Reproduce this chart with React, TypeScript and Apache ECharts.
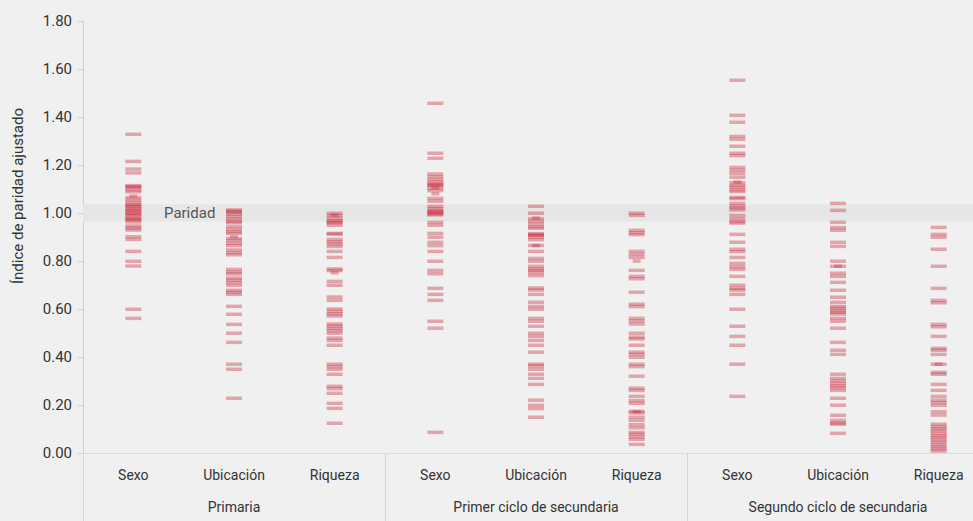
import React, { useEffect, useRef } from "react";
import * as echarts from "echarts";

const categories = ["Sexo", "Ubicación", "Riqueza", "Sexo", "Ubicación", "Riqueza", "Sexo", "Ubicación", "Riqueza"];
const groups = ["Primaria", "Primer ciclo de secundaria", "Segundo ciclo de secundaria"];
const yTicks = [0, 0.2, 0.4, 0.6, 0.8, 1.0, 1.2, 1.4, 1.6, 1.8];
const parityBand = [0.965, 1.035];

const primariaSexo = [1.328, 1.215, 1.183, 1.167, 1.114, 1.11, 1.106, 1.096, 1.088, 1.064, 1.054, 1.044, 1.035, 1.03, 1.026, 1.017, 1.012, 1.007, 0.999, 0.995, 0.989, 0.979, 0.975, 0.971, 0.9625, 0.946, 0.9375, 0.929, 0.901, 0.89, 0.84, 0.799, 0.779, 0.599, 0.561];
const primariaUbicacion = [1.0125, 1.008, 1.003, 0.995, 0.985, 0.975, 0.965, 0.959, 0.943, 0.932, 0.922, 0.915, 0.894, 0.885, 0.874, 0.864, 0.846, 0.835, 0.826, 0.765, 0.754, 0.746, 0.729, 0.72, 0.71, 0.699, 0.678, 0.67, 0.661, 0.611, 0.578, 0.536, 0.499, 0.461, 0.37, 0.349, 0.228];
const primariaRiqueza = [0.999, 0.989, 0.978, 0.968, 0.963, 0.959, 0.949, 0.915, 0.912, 0.89, 0.88, 0.871, 0.861, 0.84, 0.815, 0.767, 0.76, 0.715, 0.699, 0.65, 0.636, 0.6, 0.59, 0.58, 0.571, 0.5375, 0.529, 0.519, 0.51, 0.499, 0.479, 0.469, 0.449, 0.37, 0.36, 0.349, 0.328, 0.278, 0.268, 0.249, 0.207, 0.186, 0.124];
const primerSexo = [1.457, 1.249, 1.228, 1.1625, 1.151, 1.14, 1.13, 1.121, 1.117, 1.114, 1.103, 1.093, 1.061, 1.049, 1.028, 1.018, 1.01, 1.005, 1.001, 0.996, 0.992, 0.961, 0.949, 0.915, 0.899, 0.878, 0.864, 0.84, 0.799, 0.761, 0.747, 0.686, 0.661, 0.636, 0.549, 0.52, 0.086];
const primerUbicacion = [1.028, 0.999, 0.976, 0.965, 0.954, 0.943, 0.936, 0.914, 0.91, 0.907, 0.899, 0.889, 0.865, 0.84, 0.811, 0.799, 0.778, 0.767, 0.761, 0.751, 0.739, 0.6875, 0.679, 0.661, 0.628, 0.611, 0.599, 0.561, 0.549, 0.528, 0.499, 0.486, 0.469, 0.449, 0.42, 0.37, 0.3625, 0.349, 0.328, 0.311, 0.286, 0.22, 0.199, 0.185, 0.149];
const primerRiqueza = [0.999, 0.99, 0.928, 0.918, 0.91, 0.84, 0.828, 0.815, 0.761, 0.736, 0.726, 0.67, 0.62, 0.61, 0.561, 0.55, 0.5375, 0.499, 0.483, 0.475, 0.449, 0.42, 0.411, 0.399, 0.37, 0.36, 0.32, 0.27, 0.261, 0.236, 0.218, 0.207, 0.174, 0.1667, 0.149, 0.136, 0.118, 0.105, 0.086, 0.078, 0.067, 0.057, 0.036];
const segundoSexo = [1.553, 1.407, 1.378, 1.319, 1.307, 1.278, 1.249, 1.239, 1.19, 1.178, 1.165, 1.149, 1.126, 1.115, 1.107, 1.097, 1.089, 1.065, 1.06, 1.04, 1.029, 1.021, 1.0125, 0.99, 0.976, 0.964, 0.958, 0.911, 0.878, 0.849, 0.839, 0.815, 0.79, 0.776, 0.765, 0.736, 0.699, 0.686, 0.679, 0.661, 0.599, 0.528, 0.486, 0.449, 0.37, 0.236];
const segundoUbicacion = [1.04, 1.011, 0.961, 0.939, 0.928, 0.878, 0.861, 0.799, 0.778, 0.749, 0.736, 0.711, 0.678, 0.649, 0.628, 0.611, 0.603, 0.594, 0.586, 0.579, 0.561, 0.549, 0.52, 0.461, 0.428, 0.411, 0.328, 0.311, 0.3, 0.29, 0.28, 0.272, 0.261, 0.228, 0.199, 0.157, 0.136, 0.125, 0.12, 0.082];
const segundoRiqueza = [0.94, 0.911, 0.899, 0.849, 0.778, 0.686, 0.636, 0.626, 0.536, 0.526, 0.486, 0.436, 0.428, 0.411, 0.37, 0.336, 0.328, 0.286, 0.261, 0.236, 0.22, 0.21, 0.199, 0.172, 0.158, 0.12, 0.11, 0.101, 0.092, 0.082, 0.072, 0.064, 0.054, 0.045, 0.035, 0.026, 0.017, 0.008];

const allColumns = [primariaSexo, primariaUbicacion, primariaRiqueza, primerSexo, primerUbicacion, primerRiqueza, segundoSexo, segundoUbicacion, segundoRiqueza];

// shorter marks (partial-width dashes)
const shortMarks: number[][] = [[1.071], [0.901], [0.992, 0.751], [1.106, 1.08], [0.979, 0.864], [0.8, 0.172], [1.129], [0.778], [0.37]];

const FONT = "Roboto, 'Liberation Sans', sans-serif";

export default function App() {
  const ref = useRef<HTMLDivElement>(null);
  useEffect(() => {
    if (!ref.current) return;
    const chart = echarts.init(ref.current, undefined, { renderer: "svg" });
    const mainData: number[][] = [];
    allColumns.forEach((col, i) => col.forEach((v) => mainData.push([i, v])));
    const shortData: number[][] = [];
    shortMarks.forEach((col, i) => col.forEach((v) => shortData.push([i, v])));
    const markColor = "rgba(200, 35, 55, 0.46)";
    chart.setOption({
      animation: false,
      backgroundColor: "#f0f0f0",
      textStyle: { fontFamily: FONT },
      grid: { left: 83, top: 21, right: -16, bottom: 68, containLabel: false, outerBoundsMode: "none" },
      xAxis: [
        {
          type: "category",
          data: categories,
          position: "bottom",
          axisLine: { show: true, lineStyle: { color: "#dcdcdc", width: 1 } },
          axisTick: { show: false },
          axisLabel: { margin: 15, fontSize: 14, color: "#333", fontFamily: FONT },
          splitLine: { show: false },
        },
        {
          type: "category",
          data: groups,
          position: "bottom",
          axisLine: { show: false },
          axisTick: { show: true, length: 68, interval: 0, lineStyle: { color: "#d6d6d6", width: 1 } },
          axisLabel: { margin: 47, fontSize: 14, color: "#333", fontFamily: FONT, interval: 0 },
          splitLine: { show: false },
        },
      ],
      yAxis: {
        type: "value",
        min: 0,
        max: 1.8,
        interval: 0.2,
        axisLine: { show: true, lineStyle: { color: "#cfcfcf", width: 1 } },
        axisTick: { show: true, length: 5, lineStyle: { color: "#cfcfcf" } },
        axisLabel: {
          margin: 11,
          fontSize: 15,
          color: "#333",
          fontFamily: FONT,
          formatter: (v: number) => v.toFixed(2),
        },
        splitLine: { show: false },
      },
      graphic: [
        {
          type: "text",
          x: 18,
          y: 196,
          rotation: Math.PI / 2,
          style: {
            text: "Índice de paridad ajustado",
            fill: "#333",
            fontSize: 15,
            fontFamily: FONT,
            align: "center",
            verticalAlign: "middle",
          },
        },
      ],
      series: [
        {
          type: "scatter",
          data: [[0, -1]],
          symbolSize: 0,
          silent: true,
          z: 1,
          markArea: {
            silent: true,
            itemStyle: { color: "#e6e6e6" },
            label: {
              show: true,
              position: "insideLeft",
              offset: [76, 0],
              color: "#555",
              fontSize: 15,
              fontFamily: FONT,
            },
            data: [[{ yAxis: parityBand[0], name: "Paridad" }, { yAxis: parityBand[1] }]],
          },
        },
        {
          type: "scatter",
          data: mainData,
          symbol: "rect",
          symbolSize: [16, 3.5],
          itemStyle: { color: markColor },
          silent: true,
          z: 3,
        },
        {
          type: "scatter",
          data: shortData,
          symbol: "rect",
          symbolSize: [8, 3.5],
          itemStyle: { color: markColor },
          silent: true,
          z: 4,
        },
      ],
    });
    return () => chart.dispose();
  }, []);
  return (
    <div
      ref={ref}
      style={{ position: "fixed", left: 0, top: 0, width: "973px", height: "521px" }}
    />
  );
}
